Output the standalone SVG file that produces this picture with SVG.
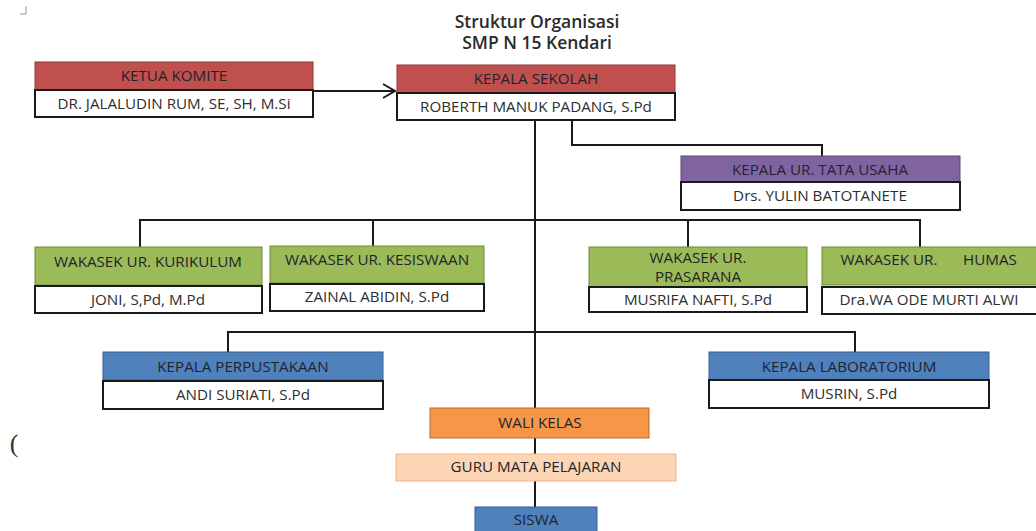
<svg xmlns="http://www.w3.org/2000/svg" width="1036" height="531" viewBox="0 0 1036 531">
<style>
text{font-family:"Open Sans","Liberation Sans",sans-serif;font-size:15.2px;text-anchor:middle;fill:#2e2e2e}
.t{font-size:17.5px;font-weight:600;fill:#2a2a2a}
.h{fill:#23232d}
.w{fill:#fff;stroke:#1a1a1a;stroke-width:2}
.red{fill:#c0504d;stroke:#8c3836;stroke-width:1}
.pur{fill:#8064a2;stroke:#5c4776;stroke-width:1}
.grn{fill:#9bbb59;stroke:#71893f;stroke-width:1}
.blu{fill:#4f81bd;stroke:#385d8a;stroke-width:1}
.org{fill:#f79646;stroke:#b66d31;stroke-width:1}
.pch{fill:#fcd5b4;stroke:#f4b183;stroke-width:1}
.c{fill:none;stroke:#1a1a1a;stroke-width:2}
</style>
<rect width="1036" height="531" fill="#fff"/>
<path d="M20 14 H26 V6" fill="none" stroke="#999" stroke-width="1"/>
<text x="14" y="452" style="font-family:'Liberation Serif',serif;font-size:26px;text-anchor:middle;fill:#333">(</text>
<g id="title">
<text class="t" x="537" y="28">Struktur Organisasi</text>
<text class="t" x="537" y="49">SMP N 15 Kendari</text>
</g>
<g id="connectors">
<path class="c" d="M313 91 H395"/>
<path class="c" d="M383 84 L395 91 L383 98"/>
<path class="c" d="M535 120 V507"/>
<path class="c" d="M572 120 V145 H822 V156"/>
<path class="c" d="M140 247 V220 H920 V247"/>
<path class="c" d="M373 220 V247"/>
<path class="c" d="M688 220 V247"/>
<path class="c" d="M228 352 V332 H855 V352"/>
</g>
<g id="ketua-komite">
<rect class="red" x="35" y="62" width="278" height="28"/>
<rect class="w" x="35" y="90" width="278" height="27"/>
<text class="h" x="174" y="81">KETUA KOMITE</text>
<text x="174" y="109">DR. JALALUDIN RUM, SE, SH, M.Si</text>
</g>
<g id="kepala-sekolah">
<rect class="red" x="397" y="65" width="278" height="28"/>
<rect class="w" x="397" y="93" width="278" height="27"/>
<text class="h" x="536" y="84">KEPALA SEKOLAH</text>
<text x="536" y="112">ROBERTH MANUK PADANG, S.Pd</text>
</g>
<g id="tata-usaha">
<rect class="pur" x="681" y="156" width="279" height="26"/>
<rect class="w" x="681" y="182" width="279" height="28"/>
<text class="h" x="820" y="175">KEPALA UR. TATA USAHA</text>
<text x="820" y="201">Drs. YULIN BATOTANETE</text>
</g>
<g id="kurikulum">
<rect class="grn" x="35" y="247" width="227" height="38"/>
<rect class="w" x="35" y="286" width="227" height="27"/>
<text class="h" x="148" y="267">WAKASEK UR. KURIKULUM</text>
<text x="148" y="305">JONI, S,Pd, M.Pd</text>
</g>
<g id="kesiswaan">
<rect class="grn" x="270" y="246" width="214" height="37"/>
<rect class="w" x="270" y="284" width="214" height="27"/>
<text class="h" x="377" y="265">WAKASEK UR. KESISWAAN</text>
<text x="377" y="302">ZAINAL ABIDIN, S.Pd</text>
</g>
<g id="prasarana">
<rect class="grn" x="589" y="247" width="218" height="40"/>
<rect class="w" x="589" y="287" width="218" height="25"/>
<text class="h" x="698" y="263">WAKASEK UR.</text>
<text class="h" x="698" y="282">PRASARANA</text>
<text x="698" y="305">MUSRIFA NAFTI, S.Pd</text>
</g>
<g id="humas">
<rect class="grn" x="822" y="247" width="216" height="38"/>
<rect class="w" x="822" y="287" width="216" height="27"/>
<text class="h" x="889" y="265">WAKASEK UR.</text>
<text class="h" x="990" y="265">HUMAS</text>
<text x="929" y="305">Dra.WA ODE MURTI ALWI</text>
</g>
<g id="perpustakaan">
<rect class="blu" x="103" y="352" width="280" height="28"/>
<rect class="w" x="103" y="381" width="280" height="28"/>
<text class="h" x="243" y="372">KEPALA PERPUSTAKAAN</text>
<text x="243" y="400">ANDI SURIATI, S.Pd</text>
</g>
<g id="laboratorium">
<rect class="blu" x="709" y="352" width="280" height="28"/>
<rect class="w" x="709" y="380" width="280" height="28"/>
<text class="h" x="849" y="372">KEPALA LABORATORIUM</text>
<text x="849" y="399">MUSRIN, S.Pd</text>
</g>
<g id="wali-kelas">
<rect class="org" x="430" y="408" width="219" height="30"/>
<text class="h" x="540" y="428">WALI KELAS</text>
</g>
<g id="guru">
<rect class="pch" x="396" y="454" width="280" height="27"/>
<text class="h" x="536" y="472">GURU MATA PELAJARAN</text>
</g>
<g id="siswa">
<rect class="blu" x="475" y="507" width="122" height="30"/>
<text class="h" x="536" y="525">SISWA</text>
</g>
</svg>
